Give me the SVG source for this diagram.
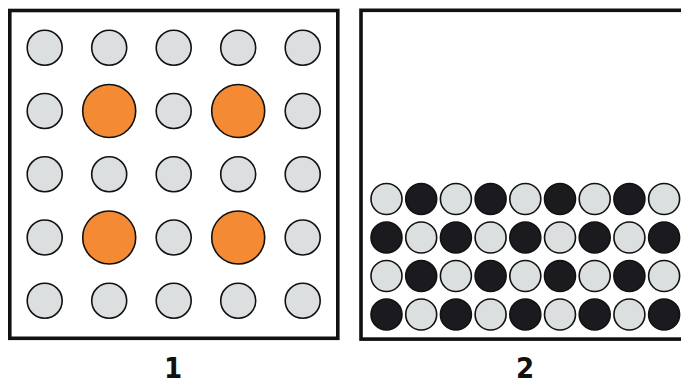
<svg xmlns="http://www.w3.org/2000/svg" width="681" height="385" viewBox="0 0 681 385">
<style>
.frame{fill:none;stroke:#111;stroke-width:3.6}
.l{fill:#dcdfe0;stroke:#111;stroke-width:1.6}
.o{fill:#f58a34;stroke:#111;stroke-width:1.6}
.d{fill:#1b1a1e;stroke:#111;stroke-width:1.6}
.lbl{font-family:"Liberation Sans Narrow","DejaVu Sans Condensed","Liberation Sans",sans-serif;font-weight:bold;font-size:29px;fill:#111;text-anchor:middle}
</style>
<rect width="681" height="385" fill="#fff"/>
<g id="panel1">
<rect class="frame" x="9.8" y="10.5" width="328" height="327.8"/>
<g id="panel1-circles">
<circle class="l" cx="44.7" cy="47.7" r="17.5"/><circle class="l" cx="109.2" cy="47.7" r="17.5"/><circle class="l" cx="173.7" cy="47.7" r="17.5"/><circle class="l" cx="238.2" cy="47.7" r="17.5"/><circle class="l" cx="302.7" cy="47.7" r="17.5"/>
<circle class="l" cx="44.7" cy="111" r="17.5"/><circle class="o" cx="109.2" cy="111" r="26.5"/><circle class="l" cx="173.7" cy="111" r="17.5"/><circle class="o" cx="238.2" cy="111" r="26.5"/><circle class="l" cx="302.7" cy="111" r="17.5"/>
<circle class="l" cx="44.7" cy="174.2" r="17.5"/><circle class="l" cx="109.2" cy="174.2" r="17.5"/><circle class="l" cx="173.7" cy="174.2" r="17.5"/><circle class="l" cx="238.2" cy="174.2" r="17.5"/><circle class="l" cx="302.7" cy="174.2" r="17.5"/>
<circle class="l" cx="44.7" cy="237.5" r="17.5"/><circle class="o" cx="109.2" cy="237.5" r="26.5"/><circle class="l" cx="173.7" cy="237.5" r="17.5"/><circle class="o" cx="238.2" cy="237.5" r="26.5"/><circle class="l" cx="302.7" cy="237.5" r="17.5"/>
<circle class="l" cx="44.7" cy="300.7" r="17.5"/><circle class="l" cx="109.2" cy="300.7" r="17.5"/><circle class="l" cx="173.7" cy="300.7" r="17.5"/><circle class="l" cx="238.2" cy="300.7" r="17.5"/><circle class="l" cx="302.7" cy="300.7" r="17.5"/>
</g>
<text class="lbl" x="173" y="378">1</text>
</g>
<g id="panel2">
<rect class="frame" x="361" y="10.3" width="340" height="328.8"/>
<g id="panel2-circles">
<circle class="l" cx="386.5" cy="199" r="15.5"/><circle class="d" cx="421.2" cy="199" r="15.5"/><circle class="l" cx="455.9" cy="199" r="15.5"/><circle class="d" cx="490.6" cy="199" r="15.5"/><circle class="l" cx="525.3" cy="199" r="15.5"/><circle class="d" cx="560" cy="199" r="15.5"/><circle class="l" cx="594.7" cy="199" r="15.5"/><circle class="d" cx="629.4" cy="199" r="15.5"/><circle class="l" cx="664.1" cy="199" r="15.5"/>
<circle class="d" cx="386.5" cy="237.5" r="15.5"/><circle class="l" cx="421.2" cy="237.5" r="15.5"/><circle class="d" cx="455.9" cy="237.5" r="15.5"/><circle class="l" cx="490.6" cy="237.5" r="15.5"/><circle class="d" cx="525.3" cy="237.5" r="15.5"/><circle class="l" cx="560" cy="237.5" r="15.5"/><circle class="d" cx="594.7" cy="237.5" r="15.5"/><circle class="l" cx="629.4" cy="237.5" r="15.5"/><circle class="d" cx="664.1" cy="237.5" r="15.5"/>
<circle class="l" cx="386.5" cy="276" r="15.5"/><circle class="d" cx="421.2" cy="276" r="15.5"/><circle class="l" cx="455.9" cy="276" r="15.5"/><circle class="d" cx="490.6" cy="276" r="15.5"/><circle class="l" cx="525.3" cy="276" r="15.5"/><circle class="d" cx="560" cy="276" r="15.5"/><circle class="l" cx="594.7" cy="276" r="15.5"/><circle class="d" cx="629.4" cy="276" r="15.5"/><circle class="l" cx="664.1" cy="276" r="15.5"/>
<circle class="d" cx="386.5" cy="314.5" r="15.5"/><circle class="l" cx="421.2" cy="314.5" r="15.5"/><circle class="d" cx="455.9" cy="314.5" r="15.5"/><circle class="l" cx="490.6" cy="314.5" r="15.5"/><circle class="d" cx="525.3" cy="314.5" r="15.5"/><circle class="l" cx="560" cy="314.5" r="15.5"/><circle class="d" cx="594.7" cy="314.5" r="15.5"/><circle class="l" cx="629.4" cy="314.5" r="15.5"/><circle class="d" cx="664.1" cy="314.5" r="15.5"/>
</g>
<text class="lbl" x="525" y="378">2</text>
</g>
<g id="connectors"/>
</svg>
